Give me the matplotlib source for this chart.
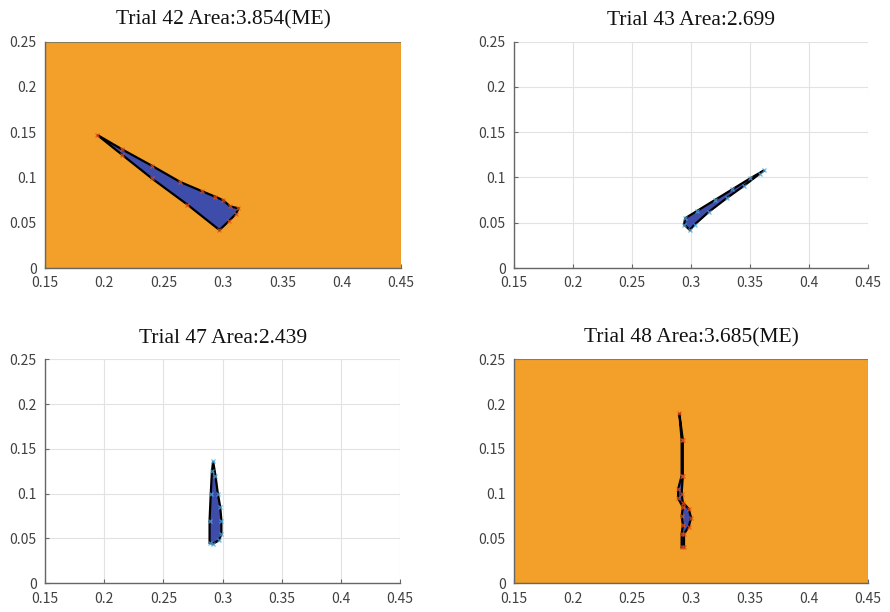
import numpy as np
import matplotlib
matplotlib.use("Agg")
import matplotlib.pyplot as plt
from matplotlib.patches import Rectangle

# trial labels and whether the trial was marked (ME)
titles = ["Trial 42 Area:3.854(ME)", "Trial 43 Area:2.699",
          "Trial 47 Area:2.439", "Trial 48 Area:3.685(ME)"]
is_me = [True, False, False, True]

# outline of each region (x, y)
t42_x = [0.194, 0.215, 0.240, 0.264, 0.282, 0.293, 0.300, 0.306, 0.313, 0.311, 0.305, 0.297, 0.270, 0.240, 0.215]
t42_y = [0.147, 0.131, 0.113, 0.095, 0.085, 0.079, 0.075, 0.068, 0.066, 0.060, 0.052, 0.042, 0.070, 0.099, 0.125]

t43_x = [0.295, 0.305, 0.320, 0.335, 0.350, 0.362, 0.358, 0.345, 0.330, 0.315, 0.303, 0.299, 0.294]
t43_y = [0.055, 0.063, 0.075, 0.087, 0.099, 0.108, 0.104, 0.091, 0.077, 0.062, 0.048, 0.042, 0.048]

t47_x = [0.292, 0.294, 0.296, 0.298, 0.299, 0.299, 0.297, 0.292, 0.289, 0.289, 0.290, 0.291]
t47_y = [0.136, 0.120, 0.100, 0.085, 0.070, 0.055, 0.048, 0.044, 0.045, 0.070, 0.100, 0.125]

t48_x = [0.290, 0.293, 0.293, 0.292, 0.293, 0.298, 0.300, 0.298, 0.294, 0.294,
         0.292, 0.292, 0.293, 0.292, 0.293, 0.289, 0.289, 0.292, 0.292]
t48_y = [0.190, 0.160, 0.120, 0.100, 0.090, 0.083, 0.073, 0.063, 0.055, 0.040,
         0.040, 0.055, 0.065, 0.075, 0.085, 0.095, 0.105, 0.120, 0.160]

shapes = [(t42_x, t42_y), (t43_x, t43_y), (t47_x, t47_y), (t48_x, t48_y)]

x_ticks = [0.15, 0.2, 0.25, 0.3, 0.35, 0.4, 0.45]
x_labels = ["0.15", "0.2", "0.25", "0.3", "0.35", "0.4", "0.45"]
y_ticks = [0, 0.05, 0.1, 0.15, 0.2, 0.25]
y_labels = ["0", "0.05", "0.1", "0.15", "0.2", "0.25"]

orange = "#F2A02A"
fill_blue = "#3F4DAA"
me_marker = "#E8501A"
ok_marker = "#4DA8DE"

fig = plt.figure(figsize=(8.9, 6.12), dpi=100)
positions = [
    [0.0506, 0.562, 0.400, 0.370],
    [0.5775, 0.562, 0.398, 0.370],
    [0.0506, 0.047, 0.399, 0.366],
    [0.5775, 0.047, 0.398, 0.366],
]

for i in range(4):
    ax = fig.add_axes(positions[i])
    ax.set_xlim(0.15, 0.45)
    ax.set_ylim(0, 0.25)
    ax.set_xticks(x_ticks)
    ax.set_xticklabels(x_labels)
    ax.set_yticks(y_ticks)
    ax.set_yticklabels(y_labels)
    ax.grid(True, color="#e2e2e2", linewidth=0.8)
    ax.set_axisbelow(True)
    for s in ["top", "right"]:
        ax.spines[s].set_visible(False)
    for s in ["left", "bottom"]:
        ax.spines[s].set_color("#666666")
        ax.spines[s].set_linewidth(1.0)
    ax.tick_params(direction="in", length=3, width=0.8, color="#666666",
                   labelsize=10, labelcolor="#404040")
    ax.tick_params(axis="x", pad=6)
    ax.tick_params(axis="y", pad=6)
    for lab in ax.get_xticklabels() + ax.get_yticklabels():
        lab.set_family(["Noto Sans CJK JP", "DejaVu Sans"])

    if is_me[i]:
        ax.add_patch(Rectangle((0.15, 0), 0.3, 0.25, facecolor=orange,
                               edgecolor="#8a7a5a", linewidth=0.8, zorder=1.5))
        mcol = me_marker
    else:
        mcol = ok_marker

    xs, ys = shapes[i]
    ax.fill(xs, ys, facecolor=fill_blue, edgecolor="black", linewidth=1.6,
            zorder=3)
    ax.plot(xs, ys, linestyle="none", marker="x", markersize=3.5,
            markeredgewidth=0.9, color=mcol, alpha=0.8, zorder=4)

    ax.set_title(titles[i], family="Liberation Serif", fontsize=15.5,
                 color="#111111", pad=12)

plt.savefig("out.png", dpi=100)
